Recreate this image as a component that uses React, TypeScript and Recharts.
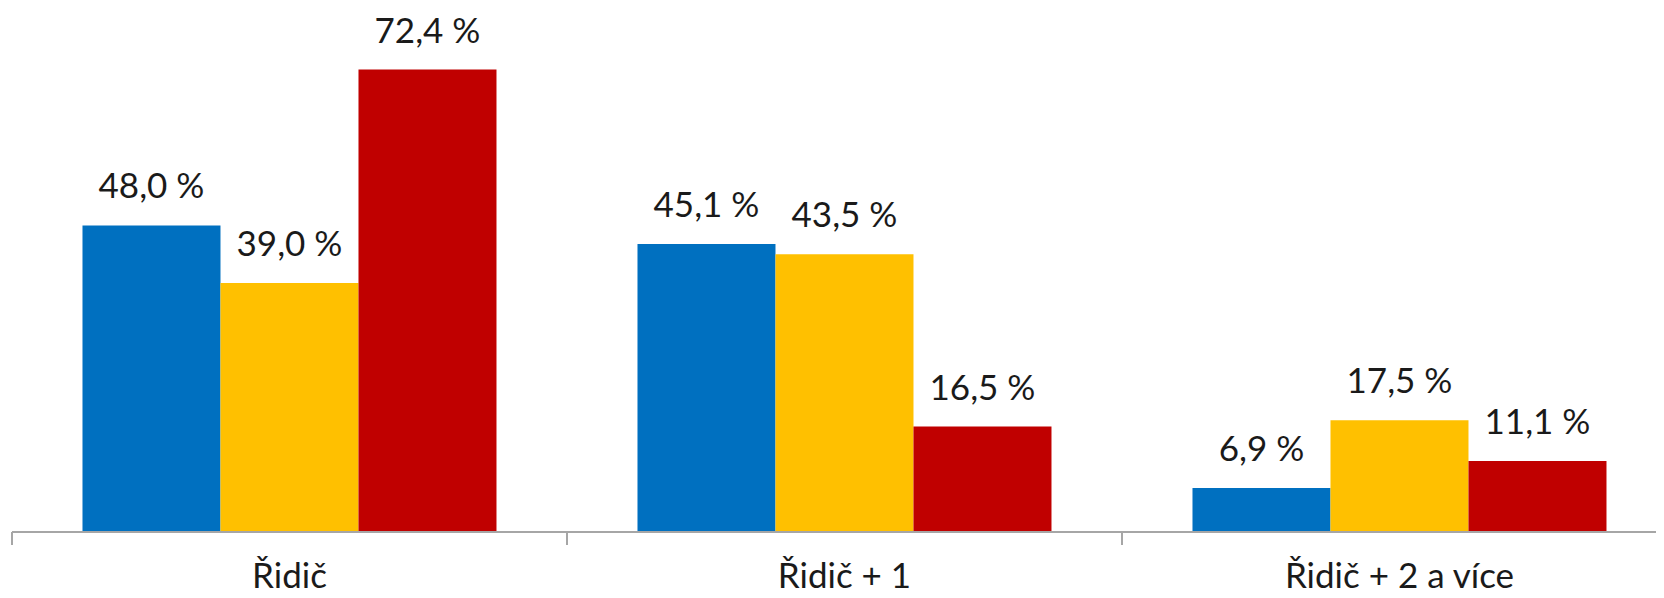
import React from 'react';
import { BarChart, Bar, XAxis, YAxis, LabelList } from 'recharts';

// kategorie a hodnoty (%)
const categories = ['Řidič', 'Řidič + 1', 'Řidič + 2 a více'];
const seriesBlue = [48.0, 45.1, 6.9];
const seriesYellow = [39.0, 43.5, 17.5];
const seriesRed = [72.4, 16.5, 11.1];

const COLORS = {
  blue: '#0070C0',
  yellow: '#FFC000',
  red: '#C00000',
};

const FONT = 'Lato, "Liberation Sans", sans-serif';
const AXIS = '#A6A6A6';

const chartData = categories.map((name, i) => ({
  name,
  s1: seriesBlue[i],
  s2: seriesYellow[i],
  s3: seriesRed[i],
}));

const formatPct = (v: any) => `${Number(v).toFixed(1).replace('.', ',')} %`;

// popisky osy + značky mezi kategoriemi
const CategoryTick = (props: any) => {
  const { x, y, payload, index, width } = props;
  const half = payload?.offset ? payload.offset : width / (2 * categories.length);
  const last = index === categories.length - 1;
  return (
    <g>
      <line x1={x - half} x2={x - half} y1={y} y2={y + 13} stroke={AXIS} strokeWidth={2} />
      {last && <line x1={x + half} x2={x + half} y1={y} y2={y + 13} stroke={AXIS} strokeWidth={2} />}
      <text x={x} y={y + 56} textAnchor="middle" fill="#1a1a1a" fontSize={35} fontFamily={FONT}>
        {payload.value}
      </text>
    </g>
  );
};

const labelProps = {
  position: 'top' as const,
  offset: 27,
  formatter: formatPct,
  fill: '#1a1a1a',
  fontSize: 35,
  fontFamily: FONT,
};

export default function App() {
  return (
    <div style={{ width: 1656, height: 590, overflow: 'hidden' }}>
      <BarChart
        width={1669}
        height={590}
        data={chartData}
        margin={{ top: 13, right: 0, left: 4, bottom: 0 }}
        barGap={0}
        barCategoryGap="12.7%"
      >
        <XAxis
          dataKey="name"
          height={66}
          tickLine={false}
          tickSize={0}
          tickMargin={0}
          axisLine={{ stroke: AXIS, strokeWidth: 2 }}
          tick={<CategoryTick />}
          interval={0}
        />
        <YAxis hide domain={[0, 80]} />
        <Bar dataKey="s1" fill={COLORS.blue} isAnimationActive={false}>
          <LabelList dataKey="s1" {...labelProps} />
        </Bar>
        <Bar dataKey="s2" fill={COLORS.yellow} isAnimationActive={false}>
          <LabelList dataKey="s2" {...labelProps} />
        </Bar>
        <Bar dataKey="s3" fill={COLORS.red} isAnimationActive={false}>
          <LabelList dataKey="s3" {...labelProps} />
        </Bar>
      </BarChart>
    </div>
  );
}
